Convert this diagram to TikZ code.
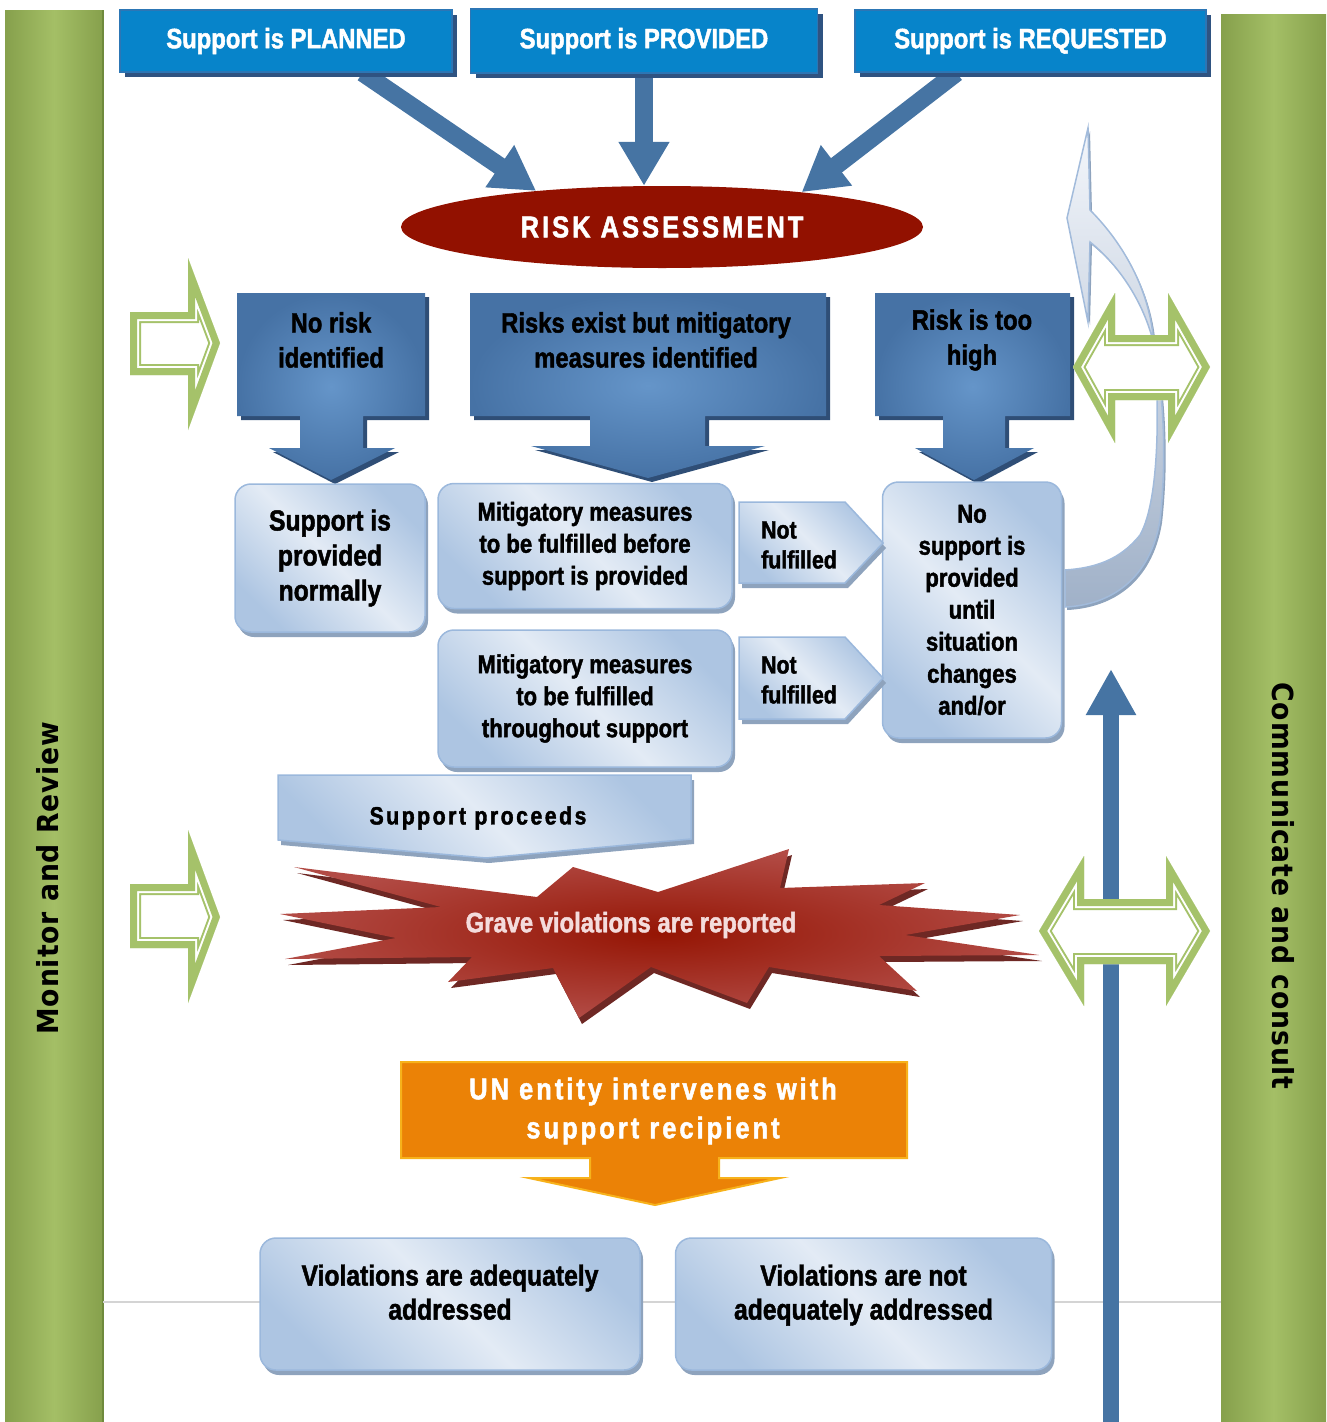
\documentclass[tikz,border=0pt]{standalone}
\usepackage{fontspec}
\setmainfont{Liberation Sans}[FakeStretch=0.85,BoldFont={Liberation Sans Bold},BoldFeatures={FakeBold=1.6}]
\newfontfamily\spacedfont{Liberation Sans}[FakeStretch=0.85,LetterSpace=10,BoldFont={Liberation Sans Bold},BoldFeatures={FakeBold=1.6}]
\newfontfamily\widefont{DejaVu Sans}[FakeStretch=0.92,LetterSpace=3]
\usetikzlibrary{arrows.meta,positioning,calc,shapes.geometric,shadows,backgrounds}

\definecolor{barside}{HTML}{86A04C}
\definecolor{barmid}{HTML}{A4BF66}
\definecolor{barline}{HTML}{6F8A3C}
\definecolor{topblue}{HTML}{0784CA}
\definecolor{topedge}{HTML}{2C76B5}
\definecolor{topshadow}{HTML}{2F5381}
\definecolor{arrowblue}{HTML}{4674A3}
\definecolor{riskred}{HTML}{921100}
\definecolor{callin}{HTML}{6595C9}
\definecolor{calloutdark}{HTML}{4672A5}
\definecolor{callshadow}{HTML}{2F4E76}
\definecolor{lightdark}{HTML}{ADC5E2}
\definecolor{lightpale}{HTML}{E3EBF5}
\definecolor{lightedge}{HTML}{9BB8DC}
\definecolor{lightshadow}{HTML}{8EA3BD}
\definecolor{greenline}{HTML}{A5C26A}
\definecolor{starin}{HTML}{951504}
\definecolor{starout}{HTML}{B24B45}
\definecolor{starshadow}{HTML}{6E2824}
\definecolor{orangefill}{HTML}{EB8206}
\definecolor{orangeedge}{HTML}{F7B21B}
\definecolor{greyrule}{HTML}{D4D4D4}
\definecolor{pinktext}{HTML}{F4DCDC}
\definecolor{bandtop}{HTML}{F3F6FB}
\definecolor{bandbottom}{HTML}{A0B1C8}
\definecolor{bandedge}{HTML}{A2BBDB}

\newcommand{\fsz}[2]{\fontsize{#1}{#2}\selectfont\bfseries}
\newcommand{\hollowarrow}[1]{%
  \begin{scope}
    \clip #1;
    \fill[white] #1;
    \draw[greenline,line width=22pt,line join=miter] #1;
    \draw[white,line width=18pt,line join=miter] #1;
    \draw[greenline,line width=14pt,line join=miter] #1;
  \end{scope}}

\tikzset{
  greenbar/.style={left color=barside,right color=barside,middle color=barmid},
  sidelabel/.style={inner sep=0pt,font=\widefont\fsz{29}{34}},
  topbox/.style={draw=topedge,line width=1.5pt,fill=topblue,text=white,inner sep=0pt,
    font=\fsz{28}{32},drop shadow={shadow xshift=5pt,shadow yshift=-5pt,fill=topshadow,opacity=1}},
  riskoval/.style={ellipse,fill=riskred,text=white,inner sep=0pt,
    minimum width=522pt,minimum height=82pt,font=\spacedfont\fsz{30}{36}},
  bigarrow/.style={draw=arrowblue,line width=18pt,-{Triangle[length=44pt,width=48pt]}},
  uparrow/.style={draw=arrowblue,line width=16pt,-{Triangle[length=46pt,width=47pt]}},
  bluecallout/.style={inner color=callin,outer color=calloutdark,
    drop shadow={shadow xshift=4pt,shadow yshift=-4pt,fill=callshadow,opacity=1}},
  lightshape/.style={draw=lightedge,line width=1.5pt,left color=lightdark,right color=lightdark,
    middle color=lightpale,shading angle=135,
    drop shadow={shadow xshift=3pt,shadow yshift=-5pt,fill=lightshadow,opacity=1}},
  lightbox/.style={lightshape,rounded corners=16pt,align=center,inner sep=0pt},
  returnband/.style={draw=bandedge,line width=1.5pt,top color=bandtop,bottom color=bandbottom,
    drop shadow={shadow xshift=2pt,shadow yshift=-3pt,fill=lightshadow,opacity=1}},
  starburst/.style={inner color=starin,outer color=starout,
    drop shadow={shadow xshift=3pt,shadow yshift=-6pt,fill=starshadow,opacity=1}},
  orangecallout/.style={fill=orangefill,draw=orangeedge,line width=2pt},
  txt/.style={align=center,inner sep=0pt},
}

\begin{document}
\begin{tikzpicture}[x=1pt,y=-1pt]
  \useasboundingbox (0,0) rectangle (1326,1422);

  % side bars
  \fill[greenbar] (5,10) rectangle (103,1422);
  \draw[barline,line width=2pt] (103,10) -- (103,1422);
  \fill[greenbar] (1221,14) rectangle (1326,1422);
  \node[sidelabel,rotate=90] (monitor) at (48,878) {Monitor and Review};
  \node[sidelabel,rotate=-90] (consult) at (1283,886) {Communicate and consult};
  \draw[greyrule,line width=1.5pt] (103,1302) -- (1221,1302);

  % where support comes from
  \node[topbox,minimum width=332pt,minimum height=62pt] (planned) at (286,41) {Support is PLANNED};
  \node[topbox,minimum width=347pt,minimum height=64pt,right=17pt of planned] (provided) {Support is PROVIDED};
  \node[topbox,minimum width=351pt,minimum height=62pt,right=36pt of provided] (requested) {Support is REQUESTED};

  \node[riskoval] (risk) at (662,227) {RISK ASSESSMENT};

  \begin{scope}[on background layer]
    \draw[bigarrow] ($(planned.south west)!0.73!(planned.south east)$) -- (risk.164);
    \draw[bigarrow] (provided.south) -- (provided.south |- risk.north);
    \draw[bigarrow] ($(requested.south west)!0.29!(requested.south east)$) -- (risk.14);
  \end{scope}

  % outcomes of the assessment
  \path[bluecallout] (237,293) -- (425,293) -- (425,416) -- (363,416) -- (363,448) -- (395,448)
    -- (331,480) -- (269,448) -- (300,448) -- (300,416) -- (237,416) -- cycle;
  \node[txt,font=\fsz{28}{35}] (norisk) at (331,340) {No risk\\identified};
  \path[bluecallout] (470,293) -- (826,293) -- (826,416) -- (705,416) -- (705,446) -- (765,446)
    -- (648,478) -- (531,446) -- (590,446) -- (590,416) -- (470,416) -- cycle;
  \node[txt,font=\fsz{28}{35}] (exist) at (646,340) {Risks exist but mitigatory\\measures identified};
  \path[bluecallout] (875,293) -- (1070,293) -- (1070,416) -- (1005,416) -- (1005,448) -- (1034,448)
    -- (974,480) -- (915,448) -- (943,448) -- (943,416) -- (875,416) -- cycle;
  \node[txt,font=\fsz{28}{35}] (toohigh) at (972,340) {Risk is too\\high};

  \node[lightbox,minimum width=190pt,minimum height=148pt,font=\fsz{29}{35}] (normal) at (330,558)
    {Support is\\provided\\normally};
  \node[lightbox,minimum width=294pt,minimum height=125pt,font=\fsz{26}{32}] (before) at (585,546)
    {Mitigatory measures\\to be fulfilled before\\support is provided};
  \node[lightbox,minimum width=294pt,minimum height=137pt,font=\fsz{26}{32},below=20pt of before] (throughout)
    {Mitigatory measures\\to be fulfilled\\throughout support};
  \node[lightbox,minimum width=179pt,minimum height=256pt,font=\fsz{26}{32}] (nosupport) at (972,610)
    {No\\support is\\provided\\until\\situation\\changes\\and/or};

  \path[lightshape] (739,502) -- (845,502) -- (883,543) -- (845,583) -- (739,583) -- cycle;
  \node[txt,align=left,font=\fsz{25}{30}] (notbefore) at (799,545) {Not\\fulfilled};
  \path[lightshape] (739,637) -- (845,637) -- (883,678) -- (845,719) -- (739,719) -- cycle;
  \node[txt,align=left,font=\fsz{25}{30}] (notthrough) at (799,680) {Not\\fulfilled};

  % back to the assessment
  \path[returnband] (1088,128) -- (1090,210) .. controls (1125,245) and (1148,290) .. (1153,335)
    .. controls (1160,400) and (1160,500) .. (1140,535) .. controls (1120,560) and (1095,568) .. (1065,570)
    -- (1065,607) .. controls (1110,605) and (1150,580) .. (1160,520)
    .. controls (1168,450) and (1162,380) .. (1152,337) .. controls (1140,295) and (1115,262) .. (1090,242)
    -- (1088,322) -- (1067,218) -- cycle;

  \coordinate (upfoot) at (1111,1422);
  \coordinate (uphead) at (1111,669);
  \draw[uparrow] (upfoot) -- (uphead);

  % monitoring and consulting arrows
  \hollowarrow{(130,312) -- (188,312) -- (188,258) -- (220,343) -- (188,430) -- (188,375) -- (130,375) -- cycle}
  \hollowarrow{(130,884) -- (188,884) -- (188,830) -- (220,917) -- (188,1003) -- (188,948) -- (130,948) -- cycle}
  \hollowarrow{(1073,367) -- (1115,293) -- (1115,335) -- (1168,335) -- (1168,293) -- (1210,367)
    -- (1168,443) -- (1168,400) -- (1115,400) -- (1115,443) -- cycle}
  \hollowarrow{(1039,931) -- (1084,856) -- (1084,899) -- (1166,899) -- (1166,856) -- (1210,931)
    -- (1166,1006) -- (1166,964) -- (1084,964) -- (1084,1006) -- cycle}

  % support and violations
  \path[lightshape] (278,775) -- (691,775) -- (691,839) -- (486,858) -- (278,840) -- cycle;
  \node[txt,font=\spacedfont\fsz{25}{30}] (proceeds) at (478,818) {Support proceeds};

  \path[starburst] (280,914) -- (441,907) -- (294,867) -- (537,897) -- (573,867) -- (658,892)
    -- (789,849) -- (780,888) -- (925,883) -- (879,905) -- (1020,915) -- (905,935) -- (1039,955)
    -- (879,956) -- (917,991) -- (769,967) -- (747,1003) -- (651,967) -- (579,1018) -- (553,968)
    -- (448,982) -- (472,957) -- (285,959) -- (396,938) -- cycle;
  \node[txt,text=pinktext,font=\fsz{28}{32}] (grave) at (631,925) {Grave violations are reported};

  \path[orangecallout] (401,1062) -- (907,1062) -- (907,1158) -- (719,1158) -- (719,1178) -- (780,1178)
    -- (655,1205) -- (529,1178) -- (590,1178) -- (590,1158) -- (401,1158) -- cycle;
  \node[txt,text=white,font=\spacedfont\fsz{30}{39}] (intervene) at (653,1111)
    {UN entity intervenes with\\support recipient};

  \node[lightbox,minimum width=380pt,minimum height=132pt,font=\fsz{29}{34},text depth=24pt] (adequate) at (450,1304)
    {Violations are adequately\\addressed};
  \node[lightbox,minimum width=376pt,minimum height=132pt,font=\fsz{29}{34},text depth=24pt,right=34pt of adequate] (inadequate)
    {Violations are not\\adequately addressed};
\end{tikzpicture}
\end{document}
